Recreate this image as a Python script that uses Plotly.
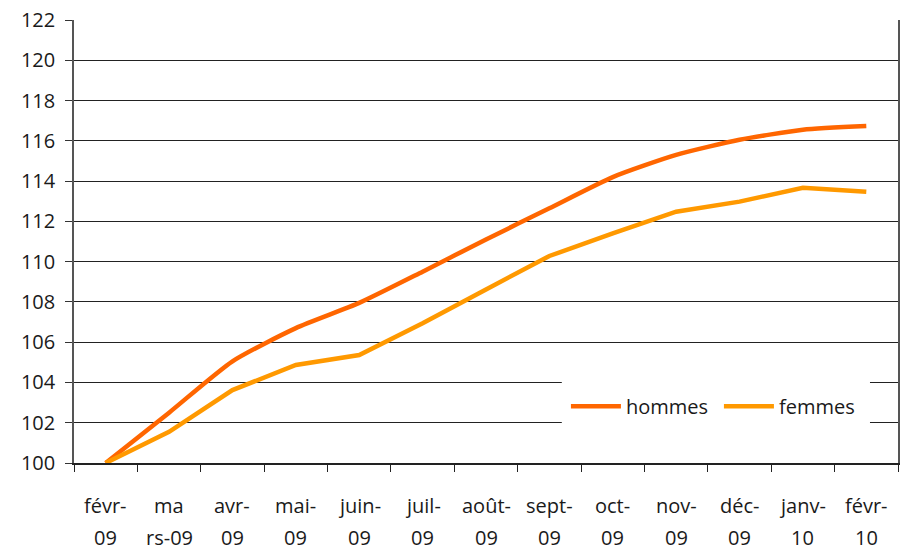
import plotly.graph_objects as go

months = ["févr-09", "mars-09", "avr-09", "mai-09", "juin-09", "juil-09", "août-09",
          "sept-09", "oct-09", "nov-09", "déc-09", "janv-10", "févr-10"]
label_row1 = ["févr-", "ma", "avr-", "mai-", "juin-", "juil-", "août-",
              "sept-", "oct-", "nov-", "déc-", "janv-", "févr-"]
label_row2 = ["09", "rs-09", "09", "09", "09", "09", "09",
              "09", "09", "09", "09", "10", "10"]
hommes = [100.0, 102.5, 105.05, 106.7, 107.95, 109.5, 111.1,
          112.65, 114.2, 115.3, 116.05, 116.55, 116.73]
femmes = [100.0, 101.55, 103.62, 104.87, 105.36, 106.94, 108.62,
          110.28, 111.4, 112.48, 112.98, 113.67, 113.47]

FONT = "Open Sans"
FS = 20
TXT = "#1a1a1a"
fig = go.Figure()
fig.add_trace(go.Scatter(x=months, y=hommes, name="hommes", mode="lines",
                         line=dict(color="#FF6600", width=4.5, shape="spline", smoothing=0.6)))
fig.add_trace(go.Scatter(x=months, y=femmes, name="femmes", mode="lines",
                         line=dict(color="#FF9900", width=4.5)))

for m, a, b in zip(months, label_row1, label_row2):
    fig.add_annotation(x=m, y=-0.095, xref="x", yref="paper", text=a, showarrow=False,
                       yanchor="middle", font=dict(family=FONT, size=FS, color=TXT))
    fig.add_annotation(x=m, y=-0.168, xref="x", yref="paper", text=b, showarrow=False,
                       yanchor="middle", font=dict(family=FONT, size=FS, color=TXT))

# white legend background covering gridlines
fig.add_shape(type="rect", xref="paper", yref="paper", x0=0.592, x1=0.966, y0=0.07, y1=0.195,
              fillcolor="white", line=dict(width=0), layer="above")

fig.update_layout(
    width=903, height=552,
    margin=dict(l=74, r=3, t=20, b=89),
    paper_bgcolor="white", plot_bgcolor="white",
    font=dict(family=FONT, size=FS, color=TXT),
    showlegend=True,
    legend=dict(orientation="h", x=0.597, y=0.128, xanchor="left", yanchor="middle",
                bgcolor="rgba(0,0,0,0)", font=dict(family=FONT, size=FS, color=TXT),
                itemwidth=50, entrywidth=88, entrywidthmode="pixels", tracegroupgap=0),
)
fig.update_xaxes(
    type="category", range=[-0.5, 12.5], showticklabels=False,
    showline=True, linecolor="#222", linewidth=1.5,
    ticks="outside", ticklen=7, tickcolor="#222", tickson="boundaries",
    showgrid=False, zeroline=False,
)
fig.update_yaxes(
    range=[100, 122], dtick=2, tick0=100,
    showline=True, linecolor="#555", linewidth=1.5, mirror=True,
    ticks="outside", ticklen=7, tickcolor="#333", ticklabelstandoff=6,
    showgrid=True, gridcolor="#222", gridwidth=1, zeroline=False,
    tickfont=dict(family=FONT, size=FS, color=TXT),
)

fig.write_html("out.html", config={"displayModeBar": False},
               post_script="document.body.style.margin='0px';")
